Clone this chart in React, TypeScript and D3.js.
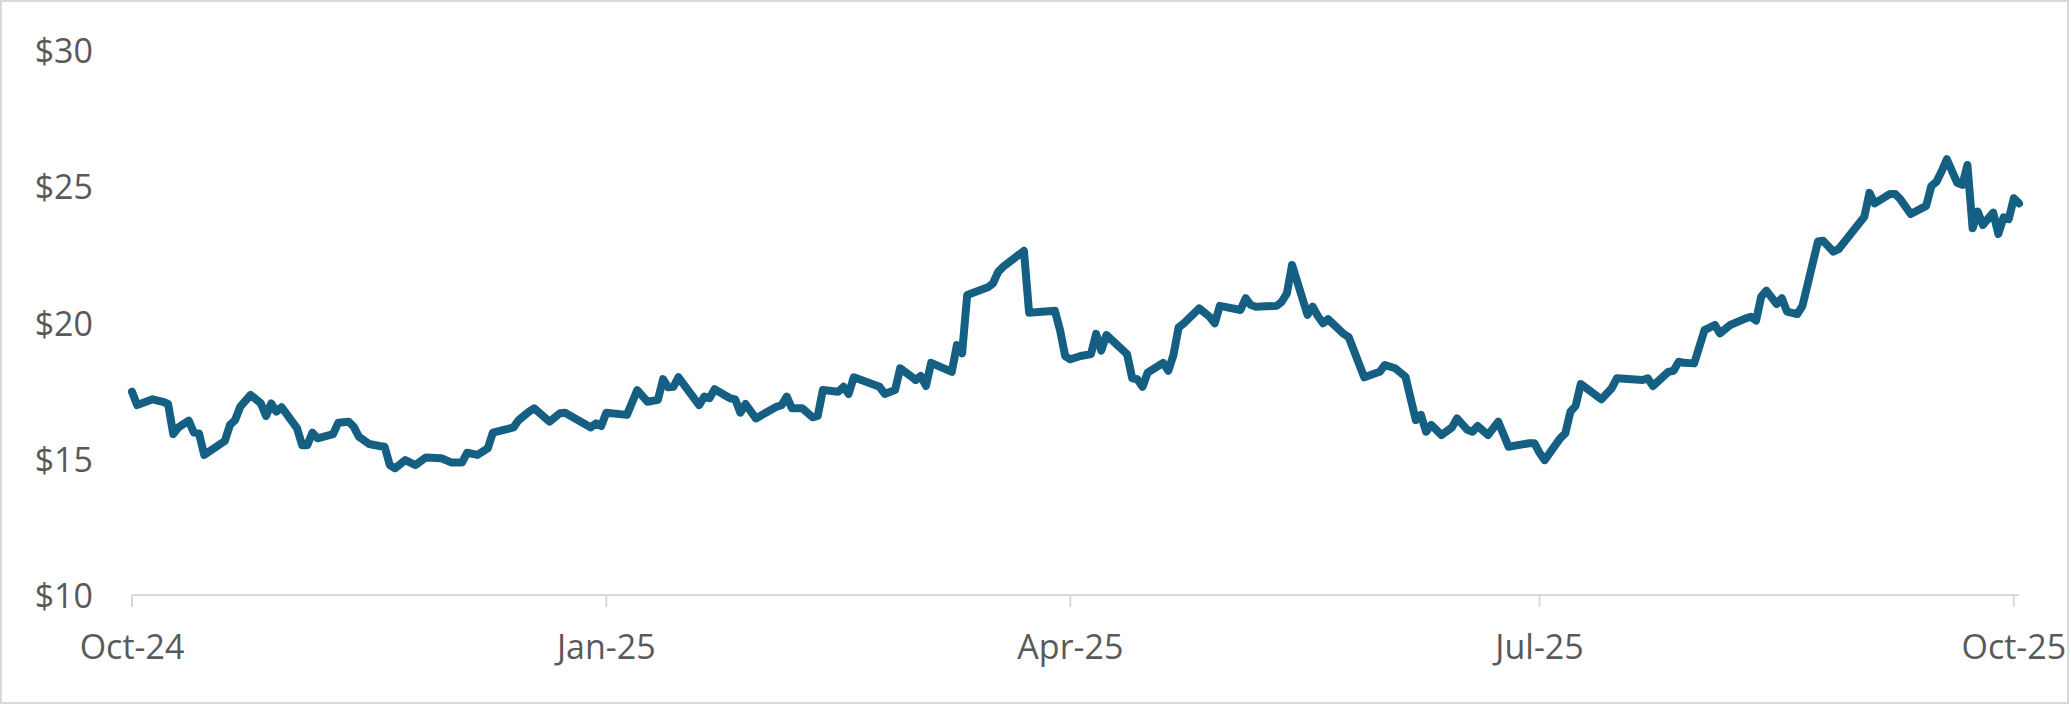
import React from "react";
import * as d3 from "d3";

// price history (closing values)
const dates = [
	"2024-10-01", "2024-10-02", "2024-10-05", "2024-10-07", "2024-10-08", "2024-10-09", "2024-10-10", "2024-10-12",
	"2024-10-13", "2024-10-14", "2024-10-15", "2024-10-19", "2024-10-20", "2024-10-21", "2024-10-22", "2024-10-24",
	"2024-10-26", "2024-10-27", "2024-10-28", "2024-10-29", "2024-10-30", "2024-11-02", "2024-11-03", "2024-11-04",
	"2024-11-05", "2024-11-06", "2024-11-09", "2024-11-10", "2024-11-12", "2024-11-13", "2024-11-14", "2024-11-16",
	"2024-11-18", "2024-11-19", "2024-11-20", "2024-11-21", "2024-11-23", "2024-11-25", "2024-11-27", "2024-11-30",
	"2024-12-02", "2024-12-04", "2024-12-05", "2024-12-07", "2024-12-09", "2024-12-10", "2024-12-14", "2024-12-15",
	"2024-12-17", "2024-12-18", "2024-12-21", "2024-12-23", "2024-12-24", "2024-12-29", "2024-12-30", "2024-12-31",
	"2025-01-01", "2025-01-05", "2025-01-07", "2025-01-09", "2025-01-11", "2025-01-12", "2025-01-13", "2025-01-14",
	"2025-01-15", "2025-01-19", "2025-01-20", "2025-01-21", "2025-01-22", "2025-01-25", "2025-01-26", "2025-01-27",
	"2025-01-28", "2025-01-30", "2025-02-03", "2025-02-04", "2025-02-05", "2025-02-06", "2025-02-08", "2025-02-10",
	"2025-02-11", "2025-02-12", "2025-02-15", "2025-02-16", "2025-02-17", "2025-02-18", "2025-02-23", "2025-02-24",
	"2025-02-26", "2025-02-27", "2025-03-01", "2025-03-02", "2025-03-03", "2025-03-04", "2025-03-05", "2025-03-09",
	"2025-03-10", "2025-03-11", "2025-03-12", "2025-03-16", "2025-03-17", "2025-03-18", "2025-03-19", "2025-03-23",
	"2025-03-24", "2025-03-29", "2025-03-30", "2025-03-31", "2025-04-01", "2025-04-03", "2025-04-05", "2025-04-06",
	"2025-04-07", "2025-04-08", "2025-04-12", "2025-04-13", "2025-04-14", "2025-04-15", "2025-04-16", "2025-04-19",
	"2025-04-20", "2025-04-21", "2025-04-22", "2025-04-23", "2025-04-26", "2025-04-28", "2025-04-29", "2025-04-30",
	"2025-05-04", "2025-05-05", "2025-05-06", "2025-05-07", "2025-05-11", "2025-05-12", "2025-05-13", "2025-05-14",
	"2025-05-17", "2025-05-18", "2025-05-19", "2025-05-20", "2025-05-21", "2025-05-24", "2025-05-25", "2025-05-28",
	"2025-05-31", "2025-06-01", "2025-06-03", "2025-06-05", "2025-06-07", "2025-06-08", "2025-06-09", "2025-06-10",
	"2025-06-12", "2025-06-14", "2025-06-15", "2025-06-17", "2025-06-18", "2025-06-19", "2025-06-21", "2025-06-23",
	"2025-06-25", "2025-06-29", "2025-06-30", "2025-07-01", "2025-07-02", "2025-07-05", "2025-07-06", "2025-07-07",
	"2025-07-08", "2025-07-09", "2025-07-13", "2025-07-15", "2025-07-16", "2025-07-21", "2025-07-22", "2025-07-23",
	"2025-07-26", "2025-07-27", "2025-07-28", "2025-07-29", "2025-07-31", "2025-08-02", "2025-08-04", "2025-08-05",
	"2025-08-07", "2025-08-10", "2025-08-11", "2025-08-12", "2025-08-13", "2025-08-14", "2025-08-16", "2025-08-17",
	"2025-08-18", "2025-08-20", "2025-08-21", "2025-08-24", "2025-08-25", "2025-08-27", "2025-08-28", "2025-09-01",
	"2025-09-02", "2025-09-03", "2025-09-04", "2025-09-07", "2025-09-08", "2025-09-09", "2025-09-11", "2025-09-14",
	"2025-09-15", "2025-09-16", "2025-09-17", "2025-09-18", "2025-09-20", "2025-09-21", "2025-09-22", "2025-09-23",
	"2025-09-24", "2025-09-25", "2025-09-27", "2025-09-28", "2025-09-29", "2025-09-30", "2025-10-01", "2025-10-02",
];

const prices = [
	17.46, 16.97, 17.18, 17.09, 17.01, 15.91, 16.15, 16.4,
	15.96, 15.93, 15.14, 15.65, 16.24, 16.42, 16.91, 17.34,
	17.03, 16.57, 17.03, 16.73, 16.89, 16.12, 15.5, 15.5,
	15.96, 15.75, 15.9, 16.32, 16.36, 16.18, 15.81, 15.54,
	15.47, 15.44, 14.77, 14.65, 14.95, 14.77, 15.05, 15.02,
	14.86, 14.86, 15.22, 15.14, 15.38, 15.96, 16.15, 16.42,
	16.73, 16.85, 16.36, 16.67, 16.69, 16.15, 16.3, 16.2,
	16.69, 16.61, 17.52, 17.09, 17.16, 17.92, 17.62, 17.64,
	17.99, 16.97, 17.28, 17.22, 17.55, 17.22, 17.18, 16.69,
	17.01, 16.48, 16.91, 16.97, 17.28, 16.85, 16.85, 16.52,
	16.57, 17.52, 17.46, 17.64, 17.38, 17.99, 17.64, 17.38,
	17.52, 18.32, 18.04, 17.89, 18.04, 17.67, 18.52, 18.19,
	19.17, 18.87, 21.01, 21.29, 21.44, 21.86, 22.05, 22.63,
	20.36, 20.43, 19.72, 18.77, 18.65, 18.77, 18.84, 19.58,
	18.97, 19.54, 18.84, 17.95, 17.92, 17.64, 18.16, 18.52,
	18.23, 18.81, 19.82, 19.97, 20.52, 20.21, 19.97, 20.61,
	20.46, 20.89, 20.64, 20.58, 20.61, 20.76, 21.07, 22.11,
	20.28, 20.58, 20.24, 19.97, 20.12, 19.58, 19.46, 17.99,
	18.19, 18.44, 18.32, 18.01, 16.42, 16.61, 15.99, 16.24,
	15.87, 16.15, 16.48, 16.06, 15.99, 16.2, 15.87, 16.36,
	15.44, 15.57, 15.57, 15.22, 14.95, 15.75, 15.93, 16.73,
	16.94, 17.74, 17.18, 17.59, 17.95, 17.89, 17.95, 17.67,
	18.19, 18.23, 18.56, 18.52, 18.5, 19.72, 19.91, 19.6,
	19.91, 20.15, 20.21, 20.07, 20.95, 21.17, 20.68, 20.89,
	20.4, 20.31, 20.61, 22.97, 23.0, 22.6, 22.69, 23.64,
	23.88, 24.76, 24.37, 24.72, 24.72, 24.52, 23.98, 24.28,
	25.01, 25.17, 25.55, 25.99, 25.13, 25.05, 25.78, 23.46,
	24.07, 23.58, 24.03, 23.25, 23.86, 23.79, 24.56, 24.37,
];

const yTicks = [10, 15, 20, 25, 30];
const xStart = "2024-10-01";
const xEnd = "2025-10-02";

const parse = d3.timeParse("%Y-%m-%d");
const fmtMonth = d3.timeFormat("%b-%y");
const fmtPrice = d3.format("$.0f");

const WIDTH = 2071,
	HEIGHT = 706;
const plot = { left: 132, right: 2019, top: 50, bottom: 595 };
const FONT = "'Open Sans', 'Liberation Sans', sans-serif";
const TEXT_COLOR = "#595959";
const AXIS_COLOR = "#d9d9d9";

export default function App() {
	const points = dates.map((d, i) => ({ date: parse(d) as Date, value: prices[i] }));

	const x = d3
		.scaleTime()
		.domain([parse(xStart) as Date, parse(xEnd) as Date])
		.range([plot.left, plot.right]);
	const y = d3.scaleLinear().domain([10, 30]).range([plot.bottom, plot.top]);

	const line = d3
		.line<{ date: Date; value: number }>()
		.x((d) => x(d.date))
		.y((d) => y(d.value));

	// quarterly ticks: Oct, Jan, Apr, Jul
	const xTicks = x.ticks(d3.timeMonth.every(3) as d3.TimeInterval);

	return (
		<svg
			width={WIDTH}
			height={HEIGHT}
			viewBox={`0 0 ${WIDTH} ${HEIGHT}`}
			style={{ position: "absolute", left: 0, top: 0, display: "block", background: "#fff" }}
		>
			<defs>
				<clipPath id="chartClip">
					<rect x={0} y={0} width={2068} height={HEIGHT} />
				</clipPath>
			</defs>
			<rect x={0} y={0} width={WIDTH} height={HEIGHT} fill="#fff" />
			<g clipPath="url(#chartClip)">
				{/* y axis labels (no gridlines) */}
				{yTicks.map((t) => (
					<text
						key={t}
						x={93}
						y={y(t)}
						textAnchor="end"
						dominantBaseline="central"
						fontFamily={FONT}
						fontSize={34}
						fill={TEXT_COLOR}
					>
						{fmtPrice(t)}
					</text>
				))}

				{/* x axis */}
				<line x1={plot.left} x2={plot.right} y1={plot.bottom} y2={plot.bottom} stroke={AXIS_COLOR} strokeWidth={2} />
				{xTicks.map((t) => (
					<g key={t.toISOString()} transform={`translate(${x(t)},0)`}>
						<line y1={plot.bottom} y2={plot.bottom + 12} stroke={AXIS_COLOR} strokeWidth={2} />
						<text
							y={659}
							textAnchor="middle"
							fontFamily={FONT}
							fontSize={34}
							fill={TEXT_COLOR}
						>
							{fmtMonth(t)}
						</text>
					</g>
				))}

				{/* price line */}
				<path
					d={line(points) || ""}
					fill="none"
					stroke="#156082"
					strokeWidth={8}
					strokeLinejoin="round"
					strokeLinecap="round"
				/>
			</g>
			{/* chart border */}
			<rect x={1} y={1} width={2067} height={702} fill="none" stroke={AXIS_COLOR} strokeWidth={2} />
		</svg>
	);
}
